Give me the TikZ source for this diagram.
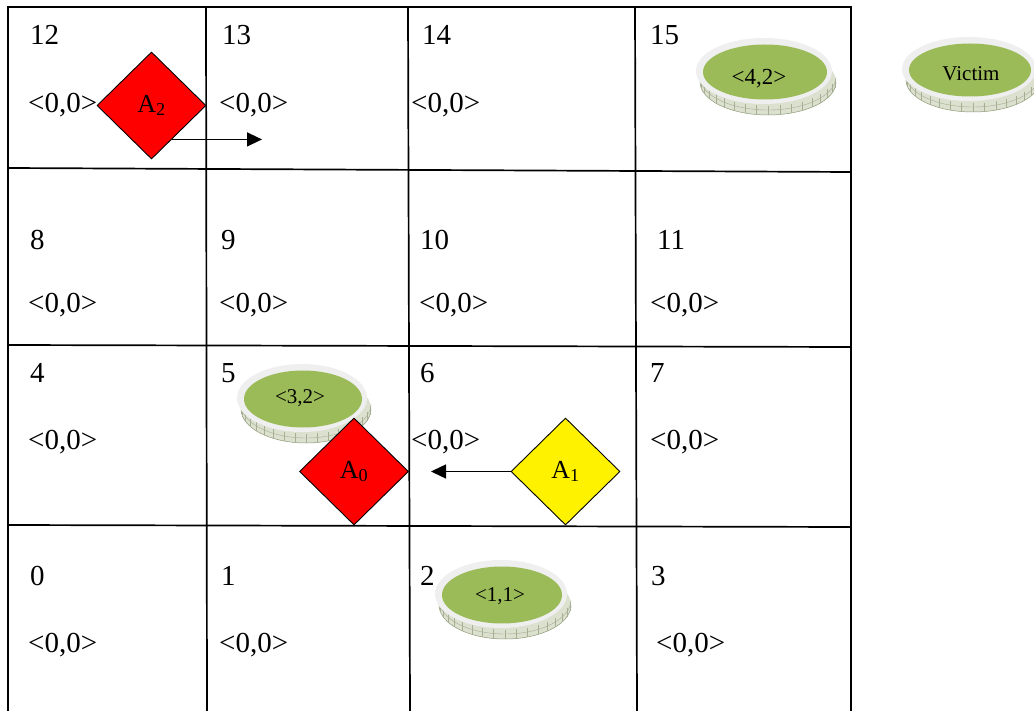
\documentclass[tikz,border=0pt]{standalone}
\usepackage{fontspec}
\setmainfont{Liberation Serif}
\usetikzlibrary{shapes.geometric,arrows.meta}
\definecolor{coingreen}{HTML}{9BBB59}
\definecolor{coinring}{HTML}{EFEFEF}
\definecolor{coinedge}{HTML}{DCE0CF}
\definecolor{coinedgeline}{HTML}{8F9B78}
\newcommand{\drawcoin}[9]{%
  % #1 name, #2 cx, #3 cy, #4 rx, #5 ry, #6 text x, #7 text y, #8 font size, #9 text
  \fill[coinedge] (#2+4,#3+11) ellipse [x radius=#4, y radius=#5];
  \fill[coinedge] (#2-#4,#3) -- (#2-#4+4,#3+11) -- (#2+#4+4,#3+11) -- (#2+#4,#3) -- cycle;
  \draw[coinedgeline, line width=0.5pt] (#2+#4+4,#3+11) arc[start angle=0, end angle=180, x radius=#4, y radius=#5];
  \draw[coinedgeline!80, line width=0.4pt] (#2+#4+4,#3+6) arc[start angle=0, end angle=180, x radius=#4, y radius=#5];
  \foreach \k in {-80,-70,...,80} {
    \draw[coinedgeline!80, line width=0.4pt] ({#2+4+#4*sin(\k)},{#3+#5*cos(\k)+2}) -- ({#2+4+#4*sin(\k)},{#3+11+#5*cos(\k)});
  }
  \fill[coinring] (#2,#3) ellipse [x radius=#4, y radius=#5];
  \fill[coingreen] (#2+1,#3+1) ellipse [x radius=#4-6, y radius=#5-5.5];
  \node[cointxt, font=\fontsize{#8}{#8}\selectfont] (#1) at (#6,#7) {#9};
}
\begin{document}
\begin{tikzpicture}[x=1pt,y=-1pt,
  gridline/.style={line width=1.7pt},
  celltxt/.style={anchor=base west, inner sep=0pt, font=\fontsize{29}{34}\selectfont},
  agent/.style={diamond, draw=black, line width=0.9pt, minimum width=109pt, minimum height=107pt, inner sep=0pt, font=\fontsize{26}{30}\selectfont},
  arr/.style={line width=1.4pt, -{Triangle[length=15pt,width=14pt]}},
  cointxt/.style={inner sep=0pt}]
\useasboundingbox (0,0) rectangle (1034,711);

% grid
\draw[gridline] (7,7) -- (852,7);
\draw[gridline] (8,168) -- (851,172);
\draw[gridline] (8,345) -- (851,347);
\draw[gridline] (8,525) -- (851,527);
\draw[gridline] (8,7) -- (8,711);
\draw[gridline] (206,7) -- (207,711);
\draw[gridline] (408,7) -- (410,711);
\draw[gridline] (635,7) -- (637,711);
\draw[gridline] (851,7) -- (851,711);

% cell texts, row 0 (top)
\node[celltxt] (n12) at (30,45) {12};
\node[celltxt] (v12) at (28,113) {<0,0>};
\node[celltxt] (n13) at (222,45) {13};
\node[celltxt] (v13) at (219,113) {<0,0>};
\node[celltxt] (n14) at (422,45) {14};
\node[celltxt] (v14) at (411,113) {<0,0>};
\node[celltxt] (n15) at (650,45) {15};
% row 1
\node[celltxt] (n8) at (30,250) {8};
\node[celltxt] (v8) at (28,313) {<0,0>};
\node[celltxt] (n9) at (221,250) {9};
\node[celltxt] (v9) at (219,313) {<0,0>};
\node[celltxt] (n10) at (420,250) {10};
\node[celltxt] (v10) at (419,313) {<0,0>};
\node[celltxt] (n11) at (657,250) {11};
\node[celltxt] (v11) at (650,313) {<0,0>};
% row 2
\node[celltxt] (n4) at (30,383) {4};
\node[celltxt] (v4) at (28,449) {<0,0>};
\node[celltxt] (n5) at (221,383) {5};
\node[celltxt] (n6) at (420,383) {6};
\node[celltxt] (v6) at (411,449) {<0,0>};
\node[celltxt] (n7) at (650,383) {7};
\node[celltxt] (v7) at (650,449) {<0,0>};
% row 3
\node[celltxt] (n0) at (30,585) {0};
\node[celltxt] (v0) at (28,652) {<0,0>};
\node[celltxt] (n1) at (221,585) {1};
\node[celltxt] (v1) at (219,652) {<0,0>};
\node[celltxt] (n2) at (420,585) {2};
\node[celltxt] (n3) at (651,585) {3};
\node[celltxt] (v3) at (656,652) {<0,0>};

% coins
\drawcoin{c42}{764}{71}{68}{33}{759}{79}{23}{<4,2>}
\drawcoin{victim}{969}{69}{67}{32}{971}{74}{21}{Victim}
\drawcoin{c32}{302}{398}{65}{34}{300}{398}{21}{<3,2>}
\drawcoin{c11}{501}{594}{66}{34}{500}{596}{21}{<1,1>}

% agents
\node[agent, fill=red] (A2) at (151.5,105.5) {A\textsubscript{2}};
\node[agent, fill=red] (A0) at (354,471.5) {A\textsubscript{0}};
\node[agent, fill=yellow] (A1) at (565.5,471.5) {A\textsubscript{1}};

% moves
\coordinate (a2end) at (262,140);
\coordinate (a1end) at (431,471.5);
\draw[arr] (A2.-59) -- (A2.-59 -| a2end);
\draw[arr] (A1.west) -- (a1end);
\end{tikzpicture}
\end{document}
